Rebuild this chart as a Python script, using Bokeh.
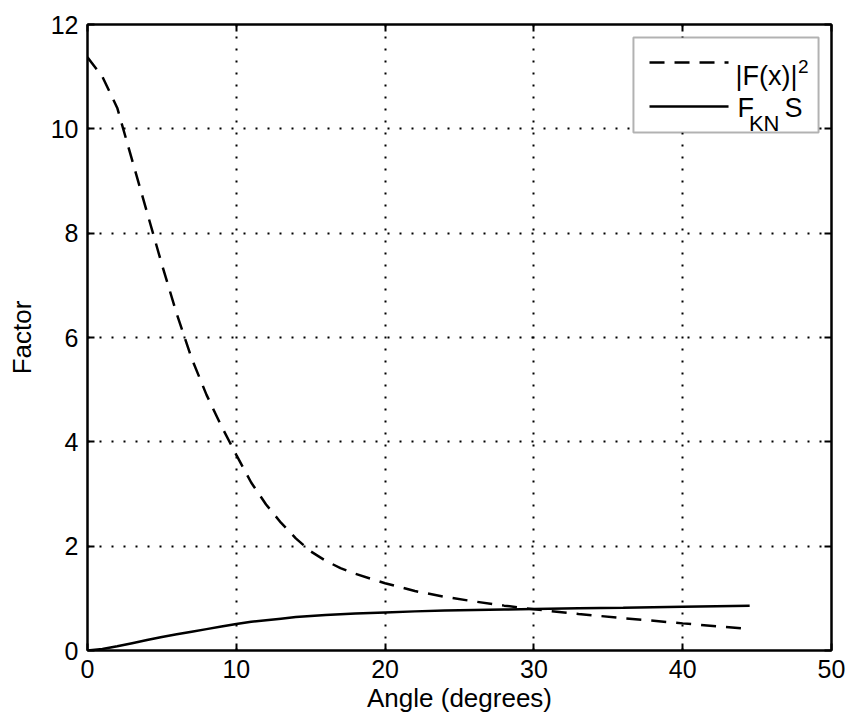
from bokeh.plotting import figure
from bokeh.models import Range1d, FixedTicker, LinearAxis, BoxAnnotation, Label
from bokeh.embed import file_html
from bokeh.resources import INLINE

# ---- data ----
angle = [0, 1, 2, 3, 4, 5, 6, 7, 8, 9, 10, 11, 12, 13, 14, 15, 16, 17, 18,
         20, 22, 24, 26, 28, 30, 33, 36, 40, 44.5]
form_factor_sq = [11.37, 11.0, 10.4, 9.4, 8.4, 7.4, 6.45, 5.6, 4.9, 4.3, 3.75,
                  3.22, 2.8, 2.45, 2.15, 1.9, 1.72, 1.58, 1.47,
                  1.29, 1.14, 1.03, 0.94, 0.86, 0.79, 0.70, 0.62, 0.52, 0.41]
fkn_s = [0.0, 0.03, 0.08, 0.14, 0.2, 0.26, 0.31, 0.36, 0.41, 0.46, 0.51,
         0.55, 0.58, 0.61, 0.64, 0.66, 0.68, 0.695, 0.71,
         0.73, 0.75, 0.765, 0.775, 0.785, 0.795, 0.81, 0.82, 0.84, 0.86]
x_ticks = [0, 10, 20, 30, 40, 50]
y_ticks = [0, 2, 4, 6, 8, 10, 12]
x_label = "Angle (degrees)"
y_label = "Factor"

FONT = "Liberation Sans"

p = figure(width=848, height=720, output_backend="svg", toolbar_location=None,
           x_range=Range1d(0, 50), y_range=Range1d(0, 12),
           min_border_left=87, min_border_right=17, min_border_top=24,
           min_border_bottom=70)
p.background_fill_color = "white"
p.border_fill_color = "white"
p.outline_line_color = "black"
p.outline_line_width = 2

# curves
p.line(angle, form_factor_sq, line_color="black", line_width=2.5, line_dash="15 10")
p.line(angle, fkn_s, line_color="black", line_width=2.5)

# axes styling
for ax, ticks in ((p.xaxis[0], x_ticks), (p.yaxis[0], y_ticks)):
    ax.ticker = FixedTicker(ticks=ticks)
    ax.minor_tick_line_color = None
    ax.major_tick_in = 7
    ax.major_tick_out = 0
    ax.major_tick_line_width = 2
    ax.axis_line_width = 2
    ax.axis_line_color = "black"
    ax.major_label_text_font = FONT
    ax.major_label_text_font_size = "25px"
    ax.major_label_text_color = "black"
    ax.axis_label_text_font = FONT
    ax.axis_label_text_font_size = "26px"
    ax.axis_label_text_font_style = "normal"
    ax.axis_label_text_color = "black"

p.xaxis[0].axis_label = x_label
p.yaxis[0].axis_label = y_label
p.xaxis[0].major_label_standoff = 9
p.xaxis[0].axis_label_standoff = 2
p.yaxis[0].major_label_standoff = 9
p.yaxis[0].axis_label_standoff = 11

# box-style ticks on top and right (no labels)
for loc, ticks in (("above", x_ticks), ("right", y_ticks)):
    ax = LinearAxis(ticker=FixedTicker(ticks=ticks))
    ax.major_label_overrides = {t: "" for t in ticks}
    ax.major_label_standoff = 0
    ax.minor_tick_line_color = None
    ax.major_tick_in = 7
    ax.major_tick_out = 0
    ax.major_tick_line_width = 2
    ax.axis_line_width = 2
    p.add_layout(ax, loc)

# dotted grid
for g in (p.xgrid[0], p.ygrid[0]):
    g.grid_line_color = "black"
    g.grid_line_width = 2
    g.grid_line_dash = "2 10"
    g.grid_line_alpha = 1.0
p.xgrid[0].ticker = FixedTicker(ticks=x_ticks)
p.ygrid[0].ticker = FixedTicker(ticks=y_ticks)

# ---- custom legend (layout positions in data units) ----
LEG_X0, LEG_X1, LEG_Y0, LEG_Y1 = 36.69, 49.13, 9.93, 11.75
box = BoxAnnotation(left=LEG_X0, right=LEG_X1, bottom=LEG_Y0, top=LEG_Y1,
                    fill_color="white", fill_alpha=1.0, line_color="black",
                    line_width=2, level="annotation")
p.add_layout(box)

SAMPLE_X = [37.77, 43.08]
p.line(SAMPLE_X, [11.27, 11.27], line_color="black", line_width=2.5,
       line_dash="15 10", level="overlay")
p.line(SAMPLE_X, [10.43, 10.43], line_color="black", line_width=2.5,
       level="overlay")

def lab(text, x, y, size):
    p.add_layout(Label(x=x, y=y, text=text, text_font=FONT,
                       text_font_size=size, text_color="black",
                       text_baseline="alphabetic", text_align="left",
                       level="overlay"))

lab("|F(x)|", 43.55, 11.02, "27px")
lab("2", 47.75, 11.19, "19px")
lab("F", 43.68, 10.39, "27px")
lab("KN", 44.45, 10.11, "22px")
lab("S", 46.84, 10.39, "27px")

open("out.html", "w").write(file_html(p, INLINE))
